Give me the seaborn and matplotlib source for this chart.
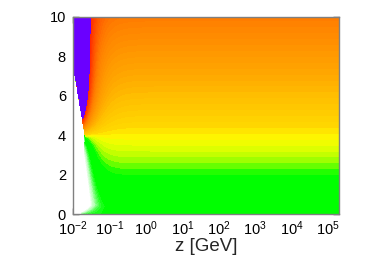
import numpy as np
import matplotlib
matplotlib.use('Agg')
import matplotlib.pyplot as plt
import seaborn as sns
from matplotlib.colors import LinearSegmentedColormap
from matplotlib.ticker import LogLocator, MultipleLocator, NullFormatter

# threshold curve in log10(z)
edge_y = [0, 0.5, 2, 4, 8, 10]
edge_logz = [-1.78, -1.70, -1.70, -1.67, -2.03, -2.20]

# strength of the rise (y>4) / drop (y<4) next to the threshold
amp_y = [0, 0.4, 1, 2, 3, 3.5, 3.9, 4, 6, 10]
amp = [-0.2, -1.32, -1.22, -0.99, -0.7, -0.5, -0.22, 0, 2.26, 6.78]

# colour scale of the bands
scale_v = [-0.4, -0.2, 0.0, 0.2, 0.25, 0.3, 0.35, 0.4, 0.45, 0.6, 0.7, 0.8, 0.9, 1.0, 1.2, 1.4]
scale_c = ['#ffffff', '#b4ffb4', '#00ff00', '#00ff00', '#78ff00', '#beff00', '#ebff00',
           '#fff500', '#ffd700', '#ffbe00', '#ffaa00', '#ff9b00', '#ff8c00', '#ff7d00',
           '#ff5000', '#ff2800']

xticks = [1e-2, 1e-1, 1e0, 1e1, 1e2, 1e3, 1e4, 1e5]
xlabels = ['$10^{-2}$', '$10^{-1}$', '$10^{0}$', '$10^{1}$', '$10^{2}$', '$10^{3}$', '$10^{4}$', '$10^{5}$']

sns.set_theme(style='ticks')
plt.rcParams['font.family'] = ['Liberation Sans', 'DejaVu Sans']
plt.rcParams['mathtext.fontset'] = 'custom'
plt.rcParams['mathtext.rm'] = 'Liberation Sans'
plt.rcParams['mathtext.it'] = 'Liberation Sans:italic'

u = np.linspace(-2, 5.3, 900)
y = np.linspace(0, 10, 400)
U, Y = np.meshgrid(u, y)
ub = np.interp(Y, edge_y, edge_logz)
C = np.interp(Y, amp_y, amp)
w = np.where(Y > 4, 0.24, 0.184)
d = U - ub
F = Y / 10 + C * np.exp(-np.clip(d, 0, None) / w)
F = np.where(d > 0, F, -1.0)
F = np.clip(F, -1.0, 2.0)

pos = [(v - scale_v[0]) / (scale_v[-1] - scale_v[0]) for v in scale_v]
cmap = LinearSegmentedColormap.from_list('zz', list(zip(pos, scale_c)))
cmap.set_over('#6a00ff')
cmap.set_under('#ffffff')

fig = plt.figure(figsize=(3.92, 2.77), dpi=100)
ax = fig.add_axes([0.186, 0.227, 0.679, 0.712])
ax.contourf(10 ** U, Y, F, levels=np.linspace(-0.4, 1.4, 61), cmap=cmap, extend='both')
ax.set_xscale('log')
ax.set_xlim(1e-2, 10 ** 5.3)
ax.set_ylim(0, 10)

ax.set_xticks(xticks)
ax.set_xticklabels(xlabels)
ax.xaxis.set_minor_locator(LogLocator(base=10, subs=[5]))
ax.xaxis.set_minor_formatter(NullFormatter())
ax.yaxis.set_major_locator(MultipleLocator(2))
ax.yaxis.set_minor_locator(MultipleLocator(1))
ax.tick_params(which='both', direction='in', top=True, right=True, colors='#333333',
               labelcolor='black', labelsize=10.5)
ax.tick_params(axis='y', pad=5)
ax.tick_params(axis='x', pad=4)
ax.tick_params(which='major', length=4, width=1)
ax.tick_params(which='minor', length=2.5, width=0.8)
for s in ax.spines.values():
    s.set_color('#808080')
    s.set_linewidth(1)
ax.set_xlabel('z [GeV]', fontsize=13.5, labelpad=0)

fig.savefig('out.png', dpi=100)
